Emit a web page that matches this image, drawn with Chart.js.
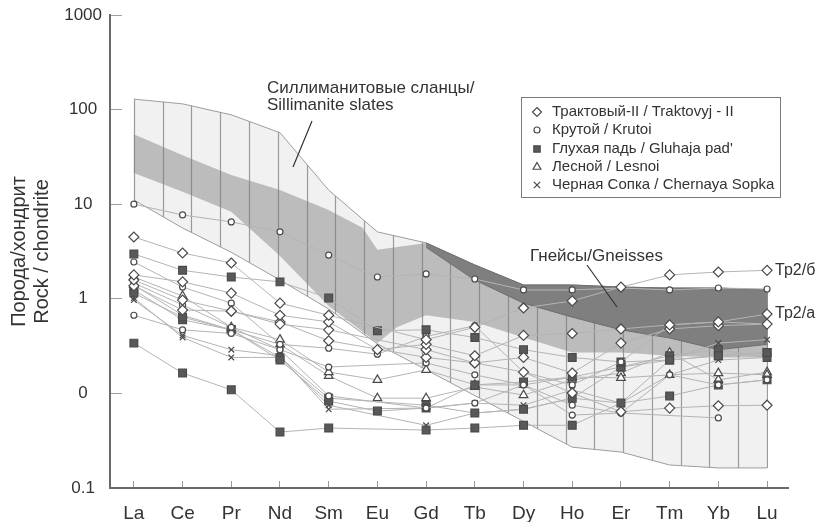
<!DOCTYPE html>
<html>
<head>
<meta charset="utf-8">
<script src="https://cdn.jsdelivr.net/npm/chart.js@4.4.1/dist/chart.umd.min.js"></script>
<style>
  html, body { margin: 0; padding: 0; background: #fff; }
</style>
</head>
<body>
<canvas id="chart" width="818" height="522"></canvas>
<script>
const elements = ['La', 'Ce', 'Pr', 'Nd', 'Sm', 'Eu', 'Gd', 'Tb', 'Dy', 'Ho', 'Er', 'Tm', 'Yb', 'Lu'];
const yTickValues = [0.01, 0.1, 1, 10, 100, 1000];
const yTickLabels = ['0.1', '0', '1', '10', '100', '1000'];

// Трактовый-II
const trakt1 = [4.5, 3.05, 2.39, 0.90, 0.67, null, 0.37, 0.50, 0.80, 0.95, 1.33, 1.79, 1.92, 2.0];
const trakt2 = [1.79, 1.51, 1.15, 0.67, 0.57, 0.29, 0.33, 0.25, 0.41, 0.43, 0.48, 0.53, 0.57, 0.69];
const trakt3 = [1.58, 0.97, 0.74, 0.54, 0.47, null, 0.29, 0.21, 0.24, 0.164, 0.34, 0.48, 0.52, 0.54];
const trakt4 = [1.37, 0.76, 0.74, 0.57, 0.36, null, 0.24, 0.21, 0.168, 0.101, 0.064, 0.070, 0.074, 0.075];
// Крутой
const krut1 = [10.0, 7.7, 6.5, 5.1, 2.9, 1.70, 1.83, 1.62, 1.24, 1.24, 1.30, 1.24, 1.30, 1.27];
const krut2 = [2.45, 1.33, 0.90, 0.33, 0.30, 0.26, 0.40, 0.52, 0.168, 0.123, 0.215, 0.53, 0.57, 0.54];
const krut3 = [0.67, 0.47, 0.43, 0.29, 0.19, null, 0.21, 0.157, 0.123, 0.059, 0.062, null, 0.055, null];
const krut4 = [1.47, 0.86, 0.50, 0.29, 0.094, null, 0.070, 0.079, 0.123, 0.075, 0.062, 0.157, 0.123, 0.139];
// Глухая падь
const gluh1 = [2.98, 2.0, 1.70, 1.51, 1.02, 0.46, 0.47, 0.39, 0.29, 0.24, 0.215, 0.225, 0.25, 0.27];
const gluh2 = [1.15, 0.64, 0.47, 0.225, 0.083, 0.065, 0.070, 0.123, 0.132, 0.149, 0.19, 0.25, 0.29, 0.24];
const gluh3 = [0.34, 0.164, 0.109, 0.039, 0.043, null, 0.041, 0.043, 0.046, 0.046, 0.079, 0.094, 0.123, 0.139];
const gluh4 = [1.24, 0.60, 0.47, 0.24, 0.089, null, 0.075, 0.062, 0.068, 0.089, 0.19, 0.225, 0.25, 0.27];
// Лесной
const lesn1 = [1.70, 1.07, 0.50, 0.37, 0.168, 0.139, 0.177, 0.123, 0.123, 0.149, 0.146, 0.157, 0.164, 0.157];
const lesn2 = [1.40, 0.67, 0.47, 0.33, 0.153, 0.089, 0.089, 0.117, 0.096, 0.139, 0.164, 0.27, 0.139, 0.168];
// Черная Сопка
const cher1 = [1.02, 0.39, 0.24, 0.24, 0.075, null, 0.046, 0.062, 0.068, 0.089, 0.079, 0.225, 0.34, 0.37];
const cher2 = [0.97, 0.41, 0.29, 0.25, 0.068, null, 0.070, 0.079, 0.075, 0.109, 0.079, 0.157, 0.225, 0.24];

// envelopes (x = element index)
const slateUpperX = [0, 1, 2, 3, 4, 5, 6, 7, 8, 9, 10, 11, 12, 13];
const slateUpper = [129, 115, 88, 57, 14.1, 5.1, 3.9, 2.28, 1.40, 1.40, 1.33, 1.30, 1.30, 1.24];
const slateLowerX = [0, 1, 2, 3, 4, 5, 9, 10, 11, 12, 13];
const slateLower = [11.1, 5.6, 3.1, 1.58, 0.78, 0.333, 0.027, 0.024, 0.0175, 0.0163, 0.0163];
const coreUpperX = [0, 1, 2, 3, 4, 4.7, 5, 6, 7, 8, 9, 10, 11, 12, 13];
const coreUpper = [55, 33, 20.4, 14.1, 8.7, 5.6, 3.3, 3.9, 2.28, 1.40, 1.40, 1.33, 1.30, 1.30, 1.24];
const coreLowerX = [0, 1, 2, 3, 4, 5, 5.4, 6, 7, 8, 9, 10, 11, 12, 13];
const coreLower = [21.4, 13.5, 8.3, 2.83, 0.84, 0.34, 0.50, 0.67, 0.57, 0.39, 0.27, 0.27, 0.25, 0.24, 0.24];
const gneissX = [6, 7, 8, 9, 10, 11, 12, 13];
const gneissUpper = [3.9, 2.28, 1.40, 1.40, 1.33, 1.30, 1.30, 1.24];
const gneissLower = [3.5, 1.58, 0.90, 0.64, 0.47, 0.385, 0.29, 0.33];

const groups = [
  { name: 'Трактовый-II / Traktovyj - II', style: 'rectRot', radius: 5, fill: '#ffffff', series: [trakt1, trakt2, trakt3, trakt4] },
  { name: 'Крутой / Krutoi', style: 'circle', radius: 3, fill: '#ffffff', series: [krut1, krut2, krut3, krut4] },
  { name: "Глухая падь / Gluhaja pad'", style: 'rect', radius: 5.5, fill: '#595959', series: [gluh1, gluh2, gluh3, gluh4] },
  { name: 'Лесной / Lesnoi', style: 'triangle', radius: 5, fill: '#ffffff', series: [lesn1, lesn2] },
  { name: 'Черная Сопка / Chernaya Sopka', style: 'crossRot', radius: 4, fill: '#ffffff', series: [cher1, cher2] }
];

const FONT = '"Liberation Sans", Arial, sans-serif';

function toPoints(xs, ys) {
  return ys.map((v, i) => ({ x: xs[i], y: v }));
}

const datasets = [];
groups.forEach(gr => {
  gr.series.forEach(s => {
    datasets.push({
      data: s.map((v, i) => ({ x: i, y: v })),
      borderColor: '#b4b4b4',
      borderWidth: 1,
      pointStyle: gr.style,
      pointRadius: gr.radius,
      pointBackgroundColor: gr.fill,
      pointBorderColor: '#4a4a4a',
      pointBorderWidth: 1.2,
      spanGaps: true,
      fill: false
    });
  });
});

// lower boundary first, upper one fills down to it
const hatchBands = [];
function band(xsU, up, xsL, low, bg, edge, hatchColor) {
  datasets.push({ data: toPoints(xsL, low), borderColor: edge, borderWidth: 1, pointRadius: 0, fill: false });
  datasets.push({ data: toPoints(xsU, up), borderColor: edge, borderWidth: 1, pointRadius: 0, fill: '-1', backgroundColor: bg });
  if (hatchColor) hatchBands.push({ upper: datasets.length - 1, lower: datasets.length - 2, color: hatchColor });
}
band(gneissX, gneissUpper, gneissX, gneissLower, '#7f7f7f', '#6e6e6e', null);
band(coreUpperX, coreUpper, coreLowerX, coreLower, '#bcbcbc', 'rgba(0,0,0,0)', '#8c8c8c');
band(slateUpperX, slateUpper, slateLowerX, slateLower, '#f1f1f1', '#9d9d9d', '#9a9a9a');

// vertical hatching inside the slate envelope, clipped to the band outline
const hatcher = {
  id: 'hatcher',
  afterDatasetDraw(chart, args) {
    const b = hatchBands.find(h => h.upper === args.index);
    if (!b) return;
    const up = chart.getDatasetMeta(b.upper).data;
    const low = chart.getDatasetMeta(b.lower).data;
    const c = chart.ctx;
    const area = chart.chartArea;
    c.save();
    c.beginPath();
    up.forEach((p, i) => i ? c.lineTo(p.x, p.y) : c.moveTo(p.x - 1, p.y));
    c.lineTo(up[up.length - 1].x + 1, up[up.length - 1].y);
    c.lineTo(low[low.length - 1].x + 1, low[low.length - 1].y);
    for (let i = low.length - 1; i >= 0; i--) c.lineTo(low[i].x, low[i].y);
    c.lineTo(low[0].x - 1, low[0].y);
    c.closePath();
    c.clip();
    c.strokeStyle = b.color;
    c.lineWidth = 1.2;
    const xs = chart.scales.x;
    for (let k = 0; k <= 22; k++) {
      const x = Math.round(xs.getPixelForValue(k * 13 / 22)) + 0.5;
      c.beginPath();
      c.moveTo(x, area.top);
      c.lineTo(x, area.bottom);
      c.stroke();
    }
    c.restore();
  }
};

function marker(c, style, x, y, r, fill) {
  c.save();
  c.beginPath();
  if (style === 'rectRot') {
    c.moveTo(x, y - r); c.lineTo(x + r, y); c.lineTo(x, y + r); c.lineTo(x - r, y); c.closePath();
  } else if (style === 'circle') {
    c.arc(x, y, r, 0, Math.PI * 2);
  } else if (style === 'rect') {
    const h = r * 0.707;
    c.rect(x - h, y - h, 2 * h, 2 * h);
  } else if (style === 'triangle') {
    c.moveTo(x, y - r); c.lineTo(x + r * 0.87, y + r * 0.5); c.lineTo(x - r * 0.87, y + r * 0.5); c.closePath();
  } else {
    const h = r * 0.707;
    c.moveTo(x - h, y - h); c.lineTo(x + h, y + h); c.moveTo(x + h, y - h); c.lineTo(x - h, y + h);
  }
  c.fillStyle = fill;
  c.strokeStyle = '#4a4a4a';
  c.lineWidth = 1.2;
  if (style !== 'crossRot') c.fill();
  c.stroke();
  c.restore();
}

const notes = {
  id: 'notes',
  afterDraw(chart) {
    const c = chart.ctx;
    const xs = chart.scales.x;
    const ys = chart.scales.y;
    c.save();
    c.fillStyle = '#333';
    c.textBaseline = 'middle';

    c.font = '17px ' + FONT;
    c.fillText('Силлиманитовые сланцы/', 267, 88);
    c.fillText('Sillimanite slates', 267, 105);
    c.fillText('Гнейсы/Gneisses', 530, 256);

    c.strokeStyle = '#333';
    c.lineWidth = 1.2;
    c.beginPath();
    c.moveTo(312, 121); c.lineTo(293, 167);
    c.moveTo(587, 265); c.lineTo(617, 307);
    c.stroke();

    c.font = '16px ' + FONT;
    const lx = xs.getPixelForValue(13) + 8;
    c.fillText('Тр2/б', lx, ys.getPixelForValue(trakt1[13]));
    c.fillText('Тр2/а', lx, ys.getPixelForValue(trakt2[13]));

    // legend box
    c.strokeStyle = '#7a7a7a';
    c.lineWidth = 1;
    c.strokeRect(521.5, 97.5, 259, 100);
    c.font = '15px ' + FONT;
    const rowY = [112, 130, 149, 167, 185];
    groups.forEach((gr, i) => {
      marker(c, gr.style, 537, rowY[i], gr.style === 'circle' ? 3 : 4.5, gr.fill);
      c.fillStyle = '#333';
      c.fillText(gr.name, 552, rowY[i]);
    });
    c.restore();
  }
};

new Chart(document.getElementById('chart'), {
  type: 'line',
  data: { datasets: datasets },
  options: {
    responsive: false,
    animation: false,
    devicePixelRatio: 1,
    layout: { padding: { top: 15, right: 30, left: 0, bottom: 0 } },
    plugins: {
      legend: { display: false },
      tooltip: { enabled: false }
    },
    scales: {
      x: {
        type: 'linear',
        min: -0.49,
        max: 13.43,
        afterBuildTicks: scale => { scale.ticks = elements.map((e, i) => ({ value: i })); },
        afterFit: scale => { scale.height = 34; scale.paddingLeft = 0; scale.paddingRight = 0; },
        border: { color: '#6a6a6a', width: 2 },
        grid: { drawOnChartArea: false, color: '#9a9a9a', tickLength: -7 },
        ticks: {
          padding: 21,
          color: '#333',
          font: { size: 19, family: FONT },
          maxRotation: 0,
          callback: v => elements[v]
        }
      },
      y: {
        type: 'logarithmic',
        min: 0.01,
        max: 1000,
        afterBuildTicks: scale => { scale.ticks = yTickValues.map(v => ({ value: v })); },
        afterFit: scale => { scale.width = 110; scale.paddingTop = 0; scale.paddingBottom = 0; },
        border: { color: '#6a6a6a', width: 2 },
        grid: { drawOnChartArea: false, color: '#a0a0a0', tickLength: -12 },
        ticks: {
          padding: 20,
          crossAlign: 'center',
          color: '#333',
          font: { size: 17, family: FONT },
          callback: v => yTickLabels[yTickValues.indexOf(v)]
        },
        title: {
          display: true,
          text: ['Порода/хондрит', 'Rock / chondrite'],
          color: '#333',
          font: { size: 20, family: FONT, lineHeight: 1.15 },
          padding: { top: 8, bottom: 0 }
        }
      }
    }
  },
  plugins: [hatcher, notes]
});
</script>
</body>
</html>
